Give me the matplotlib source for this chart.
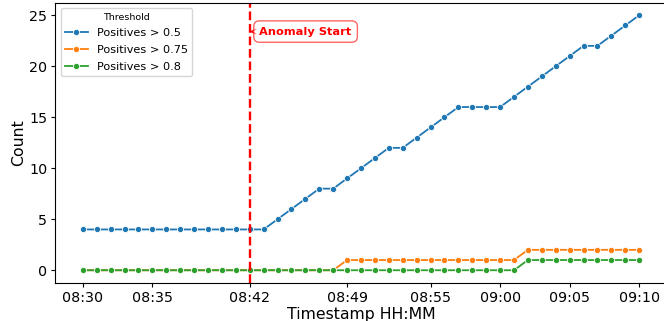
import pandas as pd
import matplotlib
matplotlib.use("Agg")
import matplotlib.pyplot as plt
import matplotlib.dates as mdates

# Data: one reading per minute, 08:30 to 09:10
times = pd.date_range("2024-01-01 08:30", "2024-01-01 09:10", freq="1min")

pos_05 = [4, 4, 4, 4, 4, 4, 4, 4, 4, 4, 4, 4, 4, 4,
          5, 6, 7, 8, 8, 9, 10, 11, 12, 12, 13, 14, 15, 16, 16, 16, 16,
          17, 18, 19, 20, 21, 22, 22, 23, 24, 25]
pos_075 = [0] * 19 + [1] * 13 + [2] * 9
pos_08 = [0] * 32 + [1] * 9

series = [("Positives > 0.5", pos_05, "#1f77b4"),
          ("Positives > 0.75", pos_075, "#ff7f0e"),
          ("Positives > 0.8", pos_08, "#2ca02c")]

tick_labels = ["08:30", "08:35", "08:42", "08:49", "08:55", "09:00", "09:05", "09:10"]
anomaly = pd.Timestamp("2024-01-01 08:42")

fig = plt.figure(figsize=(6.64, 3.21), dpi=100)
ax = fig.add_axes([0.0828, 0.1184, 0.9217, 0.8738])

for name, vals, col in series:
    ax.plot(times, vals, marker="o", color=col, lw=1.3, ms=4.5,
            mec="white", mew=0.6, label=name)

ax.axvline(anomaly, color="red", linestyle="--", lw=1.7)
ax.annotate("Anomaly Start", xy=(anomaly, 23.4), xytext=(7, 0),
            textcoords="offset points", ha="left", va="center",
            color="red", fontsize=8.2, fontweight="bold",
            bbox=dict(boxstyle="round,pad=0.5", fc="white", ec="red", alpha=0.6),
            arrowprops=dict(arrowstyle="->", color="red", lw=1))

ax.set_xticks([pd.Timestamp("2024-01-01 " + t) for t in tick_labels])
ax.xaxis.set_major_formatter(mdates.DateFormatter("%H:%M"))
ax.set_yticks([0, 5, 10, 15, 20, 25])
ax.tick_params(labelsize=10.25, length=3, pad=2.5)
ax.set_xlabel("Timestamp HH:MM", fontsize=11.3, labelpad=2)
ax.set_ylabel("Count", fontsize=11.3, labelpad=2)

leg = ax.legend(title="Threshold", loc="upper left", fontsize=8.1,
                title_fontsize=6.8, labelspacing=0.6)

fig.savefig("out.png", dpi=100)
